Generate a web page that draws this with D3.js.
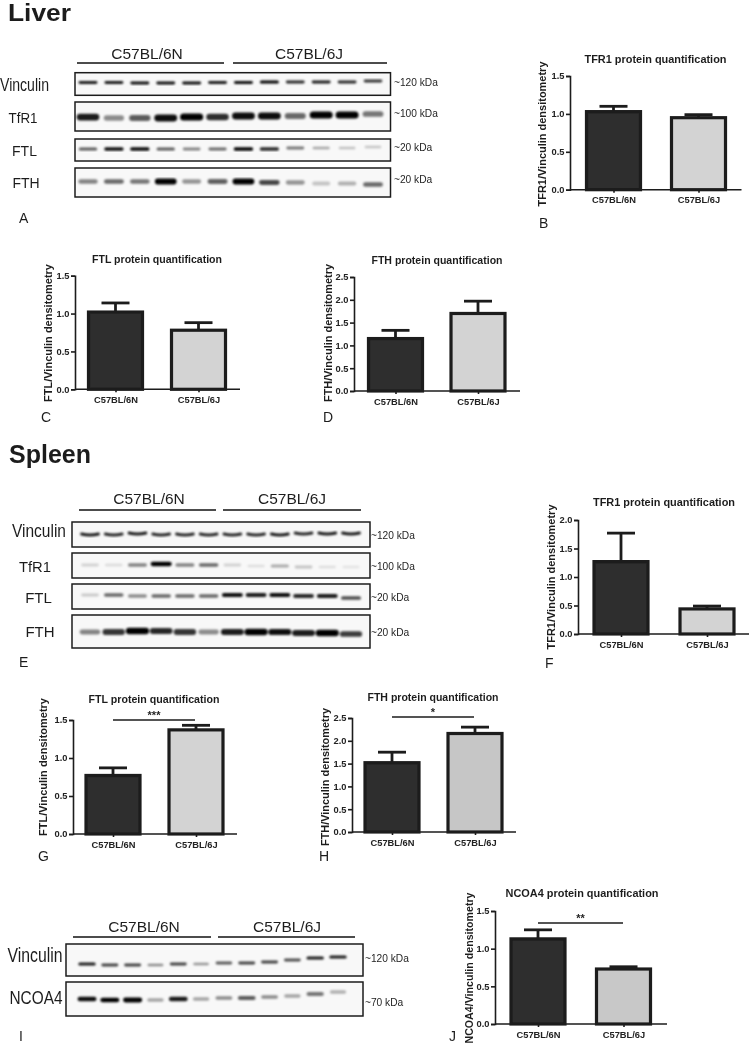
<!DOCTYPE html>
<html><head><meta charset="utf-8">
<script src="https://cdn.jsdelivr.net/npm/d3@7/dist/d3.min.js"></script>
<style>html,body{margin:0;background:#fff}svg{display:block}text{font-family:"Liberation Sans",Arial,sans-serif;fill:#1f1f1f}</style>
</head><body><svg id="c" width="750" height="1046"></svg>
<script>
// ---------- data ----------
const strains = ["C57BL/6N", "C57BL/6J"];
const lanes = [1,2,3,4,5,6,7,8,9,10,11,12];

const tfr1LiverMean = [1.03, 0.95], tfr1LiverTop = [1.10, 0.99];
const ftlLiverMean  = [1.02, 0.78], ftlLiverTop  = [1.14, 0.88];
const fthLiverMean  = [1.15, 1.70], fthLiverTop  = [1.33, 1.97];
const tfr1SpleenMean = [1.27, 0.44], tfr1SpleenTop = [1.77, 0.49];
const ftlSpleenMean  = [0.77, 1.37], ftlSpleenTop  = [0.87, 1.43];
const fthSpleenMean  = [1.52, 2.16], fthSpleenTop  = [1.75, 2.30];
const ncoa4Mean = [1.13, 0.73], ncoa4Top = [1.25, 0.76];

const ticks15 = [0, 0.5, 1.0, 1.5];
const ticks20 = [0, 0.5, 1.0, 1.5, 2.0];
const ticks25 = [0, 0.5, 1.0, 1.5, 2.0, 2.5];

// relative band intensity, lane 1-12
const liverVinculin = [.85,.85,.9,.9,.9,.85,.9,.95,.8,.85,.8,.75];
const liverTfr1 = [.85,.42,.6,.9,1,.78,.9,.9,.55,.95,.95,.5];
const liverFtl = [.6,.9,.92,.6,.45,.55,.95,.8,.5,.32,.22,.2];
const liverFth = [.45,.55,.5,1,.38,.58,1,.68,.38,.2,.28,.55];
const spleenVinculin = [.85,.8,.85,.8,.8,.8,.8,.8,.85,.8,.85,.85];
const spleenTfr1 = [.15,.12,.45,1,.45,.55,.15,.1,.3,.2,.1,.08];
const spleenFtl = [.18,.55,.42,.55,.55,.55,.9,.85,.9,.8,.85,.65];
const spleenFth = [.45,.75,.95,.8,.75,.42,.85,.95,.9,.85,.95,.72];
const ironVinculin = [.85,.7,.7,.42,.7,.38,.6,.7,.7,.65,.85,.85];
const ironNcoa4 = [.9,.95,1,.32,.85,.32,.42,.6,.42,.32,.5,.28];

// ---------- layout ----------
const svg = d3.select("#c");
const defs = svg.append("defs");
defs.append("filter").attr("id","blur").attr("x","-20%").attr("y","-150%").attr("width","140%").attr("height","400%")
  .append("feGaussianBlur").attr("stdDeviation",1.0);
const softF = defs.append("filter").attr("id","soft").attr("filterUnits","userSpaceOnUse")
  .attr("x",0).attr("y",0).attr("width",750).attr("height",1046);
softF.append("feGaussianBlur").attr("stdDeviation",0.4);

const root = svg.append("g").attr("filter","url(#soft)");

function txt(x,y,s,size,o={}){
  const t = root.append("text").attr("x",x).attr("y",y).text(s).attr("font-size",size)
    .attr("text-anchor",o.anchor||"start").attr("font-weight",o.bold?"bold":"normal");
  if(o.len) t.attr("textLength",o.len).attr("lengthAdjust","spacingAndGlyphs");
  return t;
}

function barPanel(p){
  const g = root.append("g");
  const y = d3.scaleLinear().domain([0,p.max]).range([p.y0,p.y1]);
  const x = d3.scalePoint().domain(strains).range([p.c1,p.c2]);
  const hw = 27;
  const fills = ["#2d2d2d", p.light||"#d3d3d3"];
  // error bars
  const e = g.append("g").attr("stroke","#1c1c1c").attr("stroke-width",2.8).attr("fill","none");
  strains.forEach((s,i)=>{
    e.append("line").attr("x1",x(s)).attr("x2",x(s)).attr("y1",y(p.mean[i])).attr("y2",y(p.top[i]));
    e.append("line").attr("x1",x(s)-14).attr("x2",x(s)+14).attr("y1",y(p.top[i])).attr("y2",y(p.top[i]));
  });
  g.selectAll("rect.b").data(strains).join("rect").attr("class","b")
    .attr("x",d=>x(d)-hw).attr("width",hw*2)
    .attr("y",(d,i)=>y(p.mean[i])).attr("height",(d,i)=>p.y0-y(p.mean[i]))
    .attr("fill",(d,i)=>fills[i]).attr("stroke","#1c1c1c").attr("stroke-width",3.2);
  // axes
  const ya = g.append("g").attr("transform",`translate(${p.ax},0)`)
    .call(d3.axisLeft(y).tickValues(p.ticks).tickFormat(d3.format(".1f")).tickSize(4).tickPadding(1.5));
  const xa = g.append("g").attr("transform",`translate(0,${p.y0})`)
    .call(d3.axisBottom(x).tickSize(3).tickPadding(4));
  xa.select(".domain").remove();
  xa.append("line").attr("x1",p.ax).attr("x2",p.xEnd).attr("stroke","#1c1c1c").attr("stroke-width",1.6);
  [ya,xa].forEach(a=>{
    a.selectAll("text").attr("font-size",9.3).attr("font-weight","bold").attr("font-family",'"Liberation Sans",Arial,sans-serif').style("fill","#222");
    a.selectAll("line").attr("stroke","#1c1c1c").attr("stroke-width",1.6);
  });
  ya.select(".domain").attr("stroke","#1c1c1c").attr("stroke-width",1.6);
  txt(p.tx,p.ty,p.title,11,{anchor:"middle",bold:true,len:p.tlen});
  const yl = root.append("text").attr("transform",`translate(${p.lx},${p.ly}) rotate(-90)`).attr("text-anchor","middle")
    .attr("font-size",11).attr("font-weight","bold").text(p.ylabel);
  if(p.ylen) yl.attr("textLength",p.ylen).attr("lengthAdjust","spacingAndGlyphs");
  if(p.sig){
    root.append("line").attr("x1",p.sig.a).attr("x2",p.sig.b).attr("y1",p.sig.y).attr("y2",p.sig.y).attr("stroke","#1c1c1c").attr("stroke-width",1.6);
    txt((p.sig.a+p.sig.b)/2,p.sig.y-1,p.sig.s,11,{anchor:"middle",bold:true});
  }
}

function blot(b){
  const x = d3.scalePoint().domain(lanes).range([b.l1,b.l2]);
  b.rows.forEach(r=>{
    root.append("rect").attr("x",b.x0).attr("y",r.y0).attr("width",b.x1-b.x0).attr("height",r.y1-r.y0)
      .attr("fill","#f8f8f8").attr("stroke","#1c1c1c").attr("stroke-width",1.5);
    const g = root.append("g").attr("filter","url(#blur)").attr("fill","none").attr("stroke","#000").attr("stroke-linecap","round");
    g.selectAll("path").data(r.vals).join("path")
      .attr("d",(v,i)=>{
        const cx = x(lanes[i]), w = b.w*(0.68+0.16*Math.min(1,v+0.2)), cy = r.by+(r.drift?r.drift[i]:0);
        return `M${cx-w/2},${cy} Q${cx},${cy+(r.bend||0)} ${cx+w/2},${cy}`;
      })
      .attr("stroke-width",v=>r.th*(0.7+0.5*v))
      .attr("stroke-opacity",v=>Math.min(1,v*1.05));
    txt(r.lx,r.ly,r.name,r.size,{anchor:r.anchor||"middle",len:r.len});
    txt(b.kx,r.ky,r.kda,10.2);
  });
  const [n,j] = b.head;
  txt(n.c,b.hy,strains[0],15.5,{anchor:"middle"});
  txt(j.c,b.hy,strains[1],15.5,{anchor:"middle"});
  [n,j].forEach(h=>root.append("line").attr("x1",h.a).attr("x2",h.b).attr("y1",b.hl).attr("y2",b.hl).attr("stroke","#111").attr("stroke-width",1.3));
}

// ---------- draw ----------
txt(8,21,"Liver",23,{bold:true,len:63});
txt(9,463,"Spleen",25,{bold:true});

blot({x0:75,x1:390.5,l1:88,l2:373,w:19,kx:394,hy:58.5,hl:63,
  head:[{c:147,a:77,b:224},{c:309,a:233,b:387}],
  rows:[
   {name:"Vinculin",y0:72.7,y1:95.3,by:82,th:2.6,vals:liverVinculin,lx:24.5,ly:91,size:18,len:49,ky:85.5,kda:"~120 kDa",drift:[.5,.5,1,1,1,.5,.5,0,0,0,0,-1]},
   {name:"TfR1",y0:102,y1:131,by:117,th:6,vals:liverTfr1,lx:23,ly:123,size:14,len:29,ky:117,kda:"~100 kDa",drift:[0,1,1,1,0,0,-1,-1,-1,-2,-2,-3]},
   {name:"FTL",y0:139,y1:161,by:149,th:3,vals:liverFtl,lx:24.5,ly:156,size:14,ky:150.5,kda:"~20 kDa",drift:[0,0,0,0,0,0,0,0,-1,-1,-1,-2]},
   {name:"FTH",y0:168,y1:197,by:181.5,th:4.8,vals:liverFth,lx:26,ly:188,size:14,ky:183,kda:"~20 kDa",drift:[0,0,0,0,0,0,0,1,1,2,2,3]}
  ]});
txt(19,223,"A",14);

barPanel({title:"TFR1 protein quantification",tlen:142,ylabel:"TFR1/Vinculin densitometry",ylen:145,mean:tfr1LiverMean,top:tfr1LiverTop,max:1.5,ticks:ticks15,
  ax:570,xEnd:741.5,y0:189.7,y1:76,c1:613.5,c2:698.5,tx:655.5,ty:63,lx:546,ly:134});
txt(539,228,"B",14);

barPanel({title:"FTL protein quantification",tlen:130,ylabel:"FTL/Vinculin densitometry",ylen:138,mean:ftlLiverMean,top:ftlLiverTop,max:1.5,ticks:ticks15,
  ax:75,xEnd:240,y0:389.3,y1:275.7,c1:115.5,c2:198.5,tx:157,ty:263,lx:52,ly:333});
txt(41,422,"C",14);

barPanel({title:"FTH protein quantification",tlen:131,ylabel:"FTH/Vinculin densitometry",ylen:138,mean:fthLiverMean,top:fthLiverTop,max:2.5,ticks:ticks25,
  ax:354,xEnd:520,y0:391,y1:277,c1:395.5,c2:478,tx:437,ty:264,lx:332,ly:333});
txt(323,422,"D",14);

blot({x0:72,x1:370,l1:90,l2:351,w:20,kx:371,hy:504,hl:510,
  head:[{c:149,a:79,b:216},{c:292,a:223,b:361}],
  rows:[
   {name:"Vinculin",y0:522,y1:547,by:534,th:2.6,bend:2,vals:spleenVinculin,lx:39,ly:537,size:19,len:54,ky:538.5,kda:"~120 kDa",drift:[0,0,-1,0,0,0,0,0,0,-1,-1,-1]},
   {name:"TfR1",y0:553,y1:578,by:565,th:3.6,vals:spleenTfr1,lx:35,ly:572,size:15,len:32,ky:570,kda:"~100 kDa",drift:[0,0,0,-1,0,0,0,1,1,2,2,2]},
   {name:"FTL",y0:584,y1:609,by:596,th:3.6,vals:spleenFtl,lx:38.5,ly:603,size:15,ky:601,kda:"~20 kDa",drift:[-1,-1,0,0,0,0,-1,-1,-1,0,0,2]},
   {name:"FTH",y0:615,y1:648,by:632,th:5.4,vals:spleenFth,lx:40,ly:637,size:15,ky:636,kda:"~20 kDa",drift:[0,0,-1,-1,0,0,0,0,0,1,1,2]}
  ]});
txt(19,667,"E",14);

barPanel({title:"TFR1 protein quantification",tlen:142,ylabel:"TFR1/Vinculin densitometry",ylen:145,mean:tfr1SpleenMean,top:tfr1SpleenTop,max:2.0,ticks:ticks20,
  ax:578,xEnd:749,y0:634,y1:520,c1:621,c2:707,tx:664,ty:506,lx:555,ly:577});
txt(545,668,"F",14);

barPanel({title:"FTL protein quantification",tlen:131,ylabel:"FTL/Vinculin densitometry",ylen:138,mean:ftlSpleenMean,top:ftlSpleenTop,max:1.5,ticks:ticks15,
  ax:73,xEnd:237,y0:834,y1:720,c1:113,c2:196,tx:154,ty:703,lx:47,ly:767,sig:{a:113,b:195,y:720,s:"***"}});
txt(38,861,"G",14);

barPanel({title:"FTH protein quantification",tlen:131,ylabel:"FTH/Vinculin densitometry",ylen:138,mean:fthSpleenMean,top:fthSpleenTop,max:2.5,ticks:ticks25,light:"#c6c6c6",
  ax:352,xEnd:516,y0:832,y1:718,c1:392,c2:475,tx:433,ty:701,lx:329,ly:777,sig:{a:392,b:474,y:717,s:"*"}});
txt(319,861,"H",14);

blot({x0:66,x1:363,l1:87,l2:338,w:17,kx:365,hy:932,hl:937,
  head:[{c:144,a:73,b:211},{c:287,a:218,b:355}],
  rows:[
   {name:"Vinculin",y0:944,y1:976,by:964,th:2.8,vals:ironVinculin,lx:35,ly:962,size:20,len:55,ky:962,kda:"~120 kDa",drift:[0,1,1,1,0,0,-1,-1,-2,-4,-6,-7]},
   {name:"NCOA4",y0:982,y1:1016,by:999,th:4,vals:ironNcoa4,lx:36,ly:1004,size:17.5,len:53,ky:1006,kda:"~70 kDa",drift:[0,1,1,1,0,0,-1,-1,-2,-3,-5,-7]}
  ]});
txt(19,1041,"I",14);

barPanel({title:"NCOA4 protein quantification",tlen:153,ylabel:"NCOA4/Vinculin densitometry",ylen:151,mean:ncoa4Mean,top:ncoa4Top,max:1.5,ticks:ticks15,light:"#c8c8c8",
  ax:495,xEnd:667,y0:1024,y1:911,c1:538,c2:623.5,tx:582,ty:897,lx:473,ly:968,sig:{a:538,b:623,y:923,s:"**"}});
txt(449,1041,"J",14);
</script></body></html>
